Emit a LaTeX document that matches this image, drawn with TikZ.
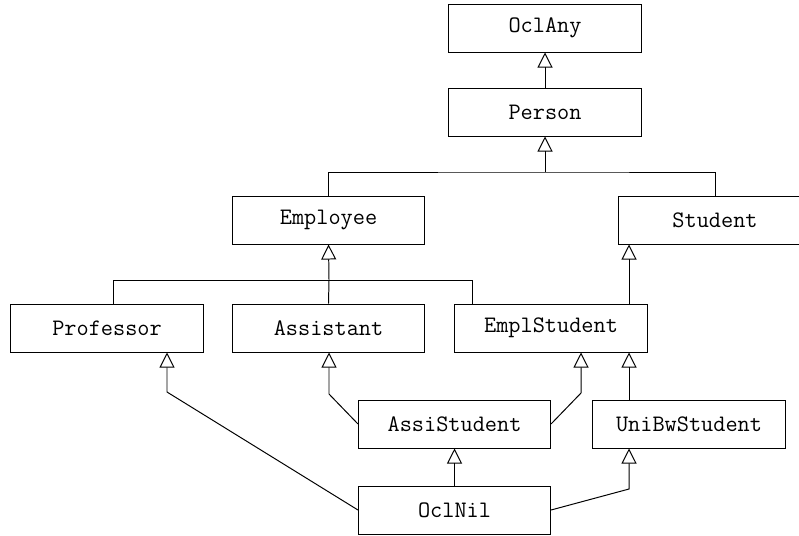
\documentclass[tikz,border=0pt]{standalone}
\usetikzlibrary{arrows.meta}

\begin{document}
\begin{tikzpicture}[x=0.025cm,y=-0.025cm,line width=0.7pt,
	cls/.style={draw,rectangle,minimum width=4.8cm,minimum height=1.2cm,inner sep=0pt,
		font=\ttfamily\fontsize{16.8}{20}\selectfont},
	inh/.style={-{Triangle[open,width=0.375cm,length=0.375cm]}}]
	\useasboundingbox (0,0) rectangle (799,535);
	% classes
	\node[cls] (oclany) at (545,28) {OclAny};
	\node[cls] (person) at (545,112) {Person};
	\node[cls] (employee) at (328.5,220) {Employee};
	\node[cls] (student) at (715,220) {Student};
	\node[cls] (professor) at (107,328) {Professor};
	\node[cls] (assistant) at (328.5,328) {Assistant};
	\node[cls] (emplstudent) at (551,328) {EmplStudent};
	\node[cls] (assistudent) at (454.5,424) {AssiStudent};
	\node[cls] (unibwstudent) at (689,424) {UniBwStudent};
	\node[cls] (oclnil) at (454.5,510) {OclNil};
	% bends
	\coordinate (pj) at (545,172);
	\coordinate (ej) at (329,280);
	\coordinate (pb) at (167,392);
	\coordinate (ab) at (329,394);
	\coordinate (eb) at (581,393);
	\coordinate (ub) at (629,489);
	% generalisations
	\draw[inh] (person) -- (oclany);
	\draw (employee.north) |- (pj) -| (student.north);
	\draw[inh] (pj) -- (person.south);
	\draw ([xshift=0.15cm]professor.north) |- (ej) -| ([xshift=0.45cm]emplstudent.north west);
	\draw (assistant.north) -- (ej);
	\draw[inh] (ej) -- (employee.south);
	\draw[inh] (ub |- emplstudent.north) -- (ub |- student.south);
	\draw[inh] (oclnil.west) -- (pb) -- (pb |- professor.south);
	\draw[inh] (assistudent.west) -- (ab) -- (ab |- assistant.south);
	\draw[inh] (assistudent.east) -- (eb) -- (eb |- emplstudent.south);
	\draw[inh] (ub |- unibwstudent.north) -- (ub |- emplstudent.south);
	\draw[inh] (oclnil.north) -- (assistudent.south);
	\draw[inh] (oclnil.east) -- (ub) -- (ub |- unibwstudent.south);
\end{tikzpicture}
\end{document}
